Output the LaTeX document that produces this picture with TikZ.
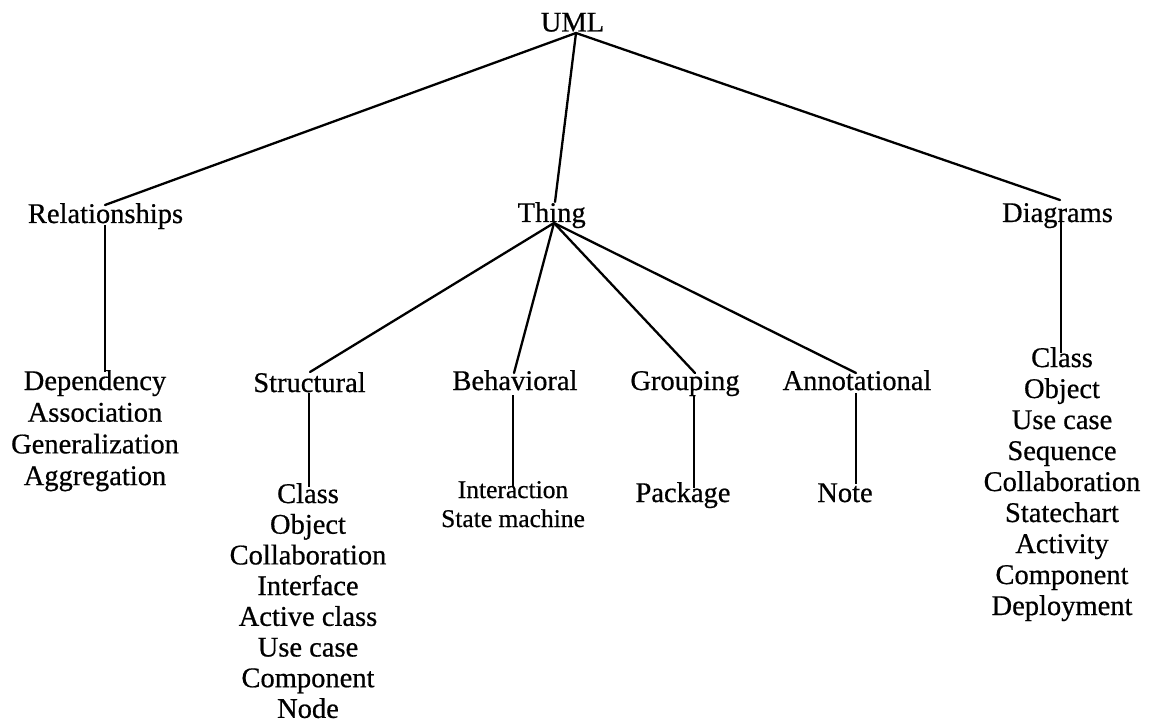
\documentclass[tikz,border=0pt]{standalone}
\usepackage{fontspec}
\setmainfont[FakeBold=0.6]{Liberation Serif}
\begin{document}
\begin{tikzpicture}[x=1pt,y=-1pt,
  lbl/.style={anchor=base,inner sep=0pt,font=\fontsize{28.5}{31}\selectfont},
  small/.style={lbl,font=\fontsize{25.5}{28}\selectfont},
  branch/.style={line width=2.3pt,line cap=round},
  stem/.style={line width=1.7pt}]
\useasboundingbox (0,0) rectangle (1149,727);

% top level
\node[lbl] (uml)   at (572.5,31.5) {UML};
\node[lbl] (rel)   at (105.5,223)  {Relationships};
\node[lbl] (thing) at (551.7,222)  {Thing};
\node[lbl] (diag)  at (1057.5,222) {Diagrams};

% kinds of things
\node[lbl] (struct) at (309.5,392) {Structural};
\node[lbl] (behav)  at (515,390)   {Behavioral};
\node[lbl] (group)  at (685,390)   {Grouping};
\node[lbl] (annot)  at (857,390)   {Annotational};

% leaf lists
\foreach \t [count=\i] in {Dependency,Association,Generalization,Aggregation}
  \node[lbl] (rel\i) at (95,{390+31.7*(\i-1)}) {\t};
\foreach \t [count=\i] in {Class,Object,Collaboration,Interface,Active class,Use case,Component,Node}
  \node[lbl] (st\i) at (308,{503+30.7*(\i-1)}) {\t};
\node[small] (bh1) at (513,498) {Interaction};
\node[small] (bh2) at (513,527) {State machine};
\node[lbl] (gr1) at (683,502) {Package};
\node[lbl] (an1) at (845,502) {Note};
\foreach \t [count=\i] in {Class,Object,Use case,Sequence,Collaboration,Statechart,Activity,Component,Deployment}
  \node[lbl] (dg\i) at (1062,{367+31*(\i-1)}) {\t};

% connector end points
\coordinate (uml-s)    at (576,33);
\coordinate (rel-n)    at (105,205);
\coordinate (rel-s)    at (105.3,225);
\coordinate (thing-n)  at (555,202);
\coordinate (thing-s)  at (554,223);
\coordinate (diag-n)   at (1060,200);
\coordinate (diag-s)   at (1061,219);
\coordinate (rel1-n)   at (105.3,372);
\coordinate (struct-n) at (310,372);
\coordinate (struct-s) at (308.7,393);
\coordinate (st1-n)    at (308.7,487);
\coordinate (behav-n)  at (514,373);
\coordinate (behav-s)  at (512.7,395);
\coordinate (bh1-n)    at (512.7,487);
\coordinate (group-n)  at (695,373);
\coordinate (group-s)  at (694,395);
\coordinate (gr1-n)    at (694,488);
\coordinate (annot-n)  at (856,373);
\coordinate (annot-s)  at (855.7,393);
\coordinate (an1-n)    at (855.7,484);
\coordinate (dg1-n)    at (1061,353);

% branches
\draw[branch] (uml-s) -- (rel-n);
\draw[branch] (uml-s) -- (thing-n);
\draw[branch] (uml-s) -- (diag-n);
\draw[branch] (thing-s) -- (struct-n);
\draw[branch] (thing-s) -- (behav-n);
\draw[branch] (thing-s) -- (group-n);
\draw[branch] (thing-s) -- (annot-n);

% stems down to the lists
\draw[stem] (rel-s) -- (rel1-n);
\draw[stem] (struct-s) -- (st1-n);
\draw[stem] (behav-s) -- (bh1-n);
\draw[stem] (group-s) -- (gr1-n);
\draw[stem] (annot-s) -- (an1-n);
\draw[stem] (diag-s) -- (dg1-n);
\end{tikzpicture}
\end{document}
